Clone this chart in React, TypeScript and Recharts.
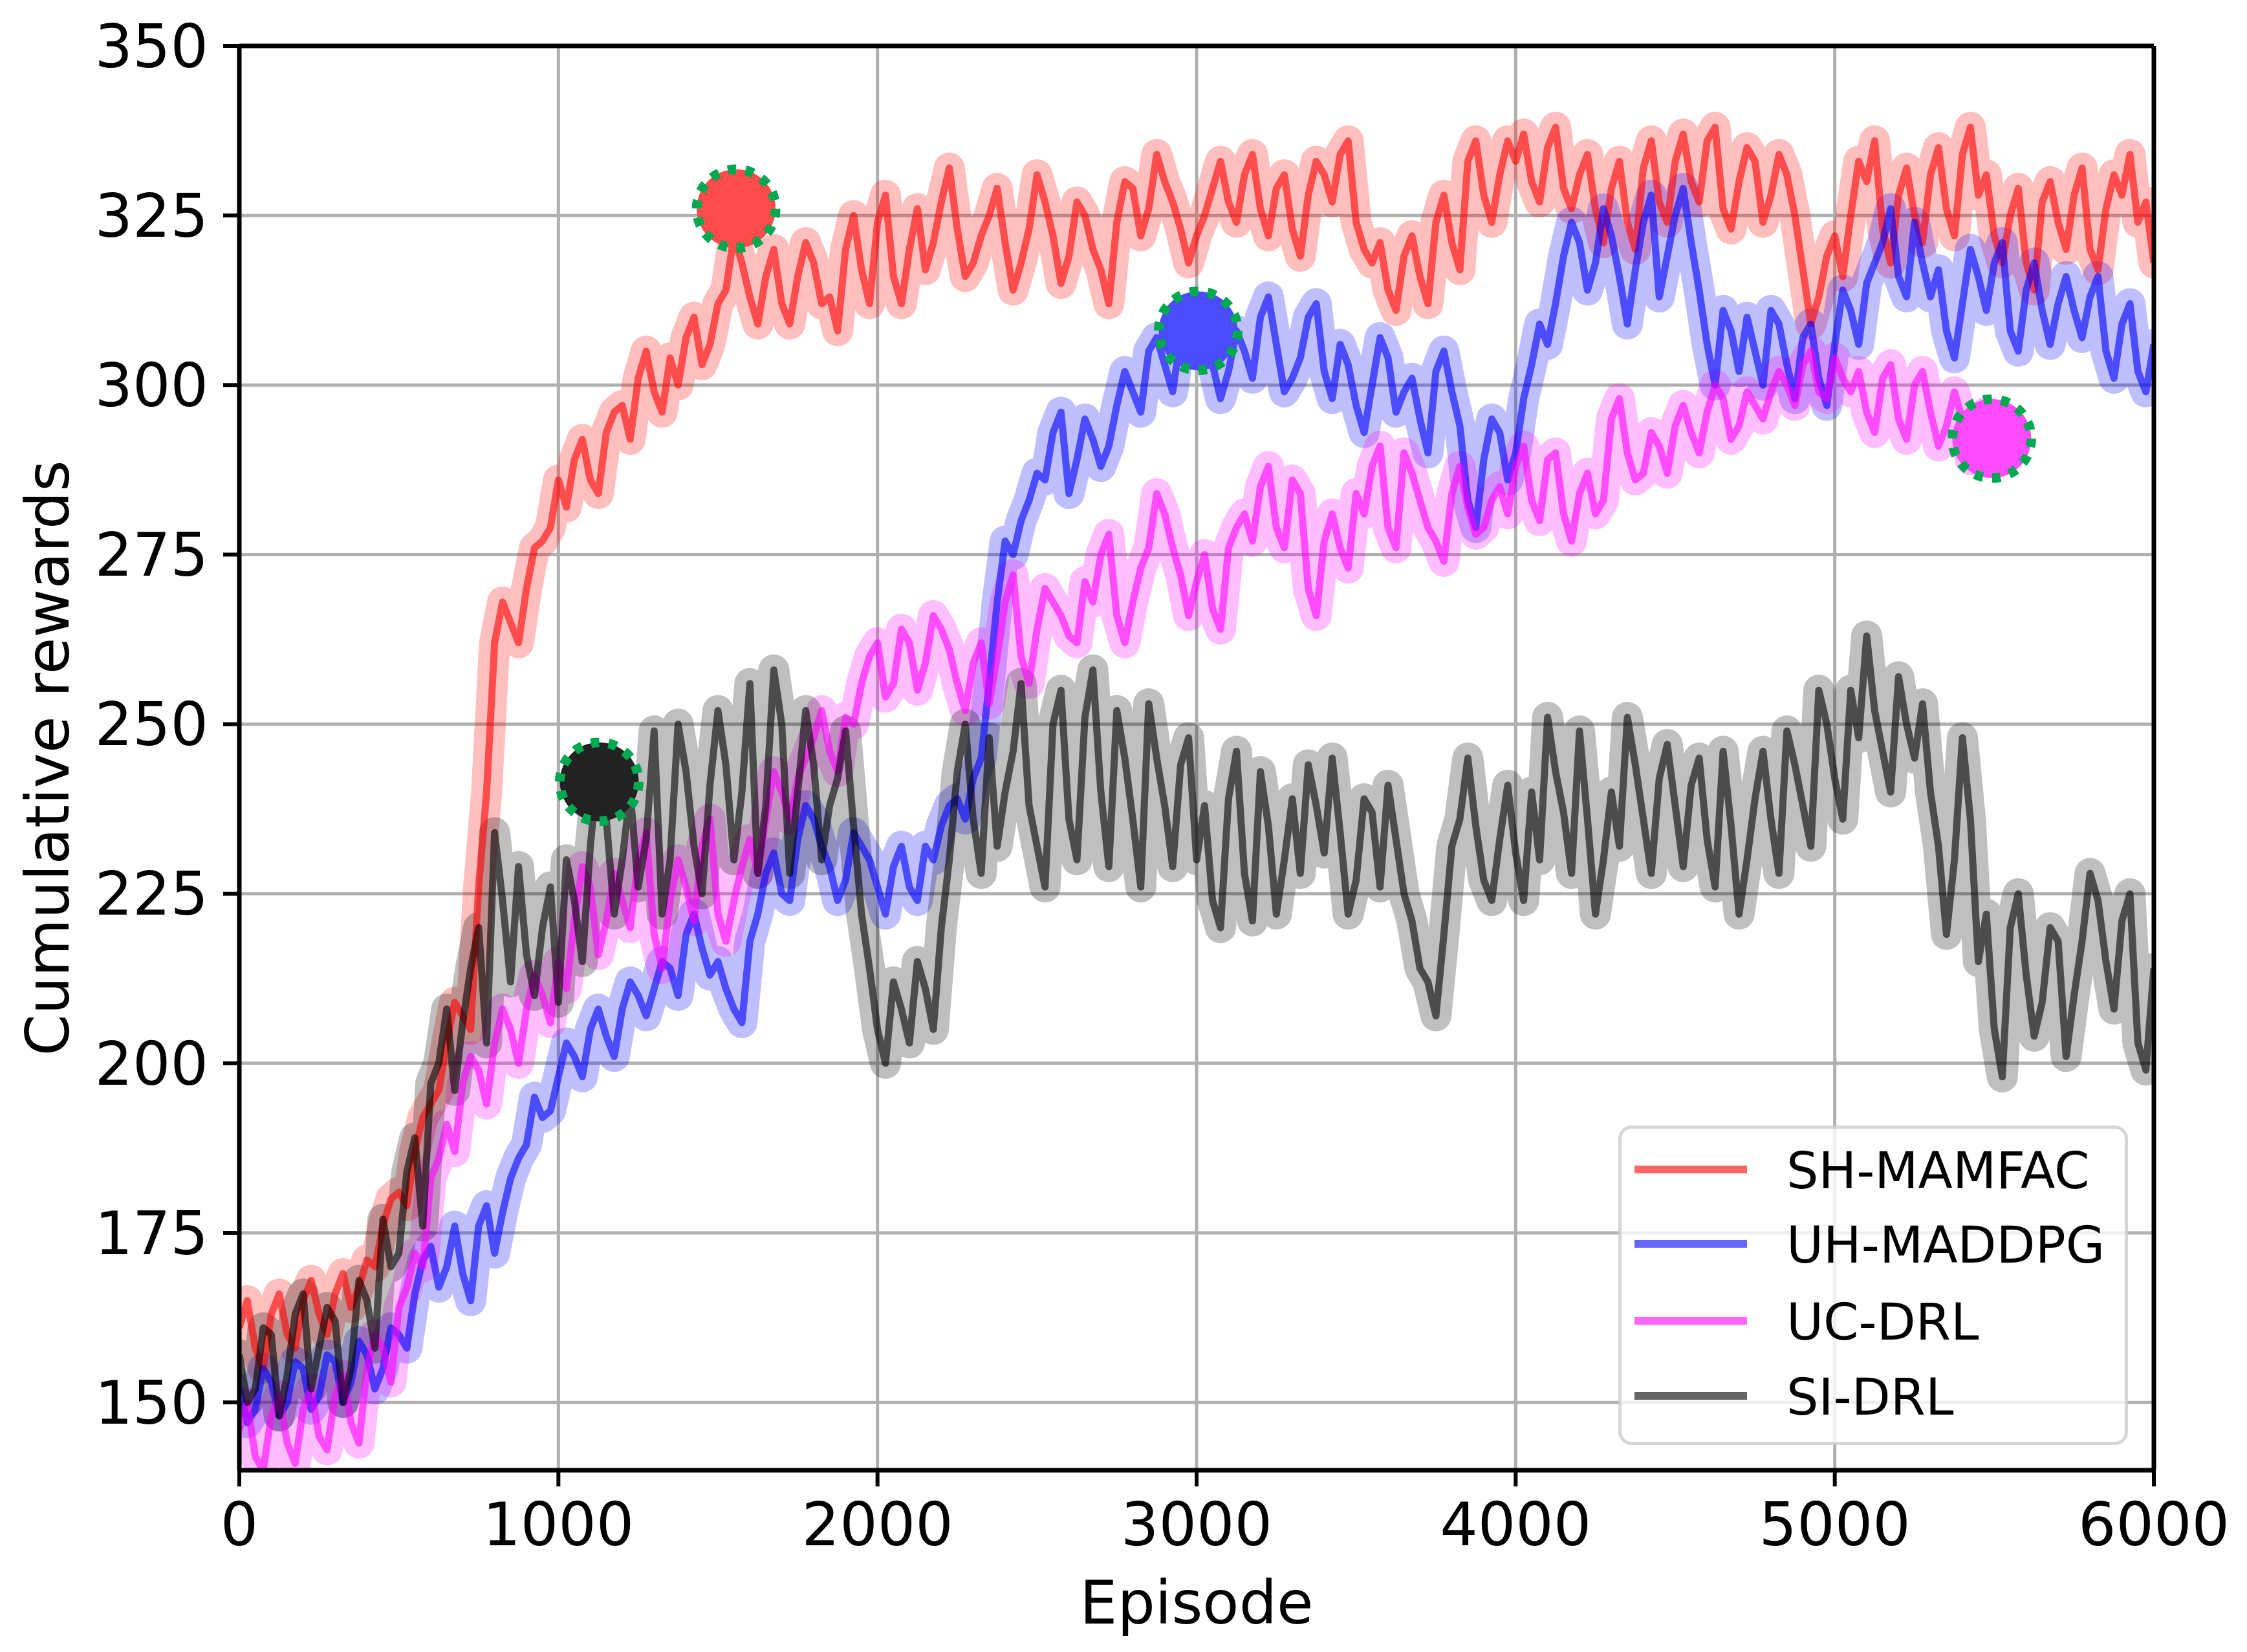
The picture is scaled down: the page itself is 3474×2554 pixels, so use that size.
import React from 'react';
import { ComposedChart, Line, XAxis, YAxis, CartesianGrid, ReferenceDot, ReferenceLine } from 'recharts';

const EPISODES = [
  0, 25, 50, 75, 100, 125, 150, 175, 200, 225, 250, 275, 300, 325, 350, 375, 400, 425, 450, 475,
  500, 525, 550, 575, 600, 625, 650, 675, 700, 725, 750, 775, 800, 825, 850, 875, 900, 925, 950, 975,
  1000, 1025, 1050, 1075, 1100, 1125, 1150, 1175, 1200, 1225, 1250, 1275, 1300, 1325, 1350, 1375, 1400, 1425, 1450, 1475,
  1500, 1525, 1550, 1575, 1600, 1625, 1650, 1675, 1700, 1725, 1750, 1775, 1800, 1825, 1850, 1875, 1900, 1925, 1950, 1975,
  2000, 2025, 2050, 2075, 2100, 2125, 2150, 2175, 2200, 2225, 2250, 2275, 2300, 2325, 2350, 2375, 2400, 2425, 2450, 2475,
  2500, 2525, 2550, 2575, 2600, 2625, 2650, 2675, 2700, 2725, 2750, 2775, 2800, 2825, 2850, 2875, 2900, 2925, 2950, 2975,
  3000, 3025, 3050, 3075, 3100, 3125, 3150, 3175, 3200, 3225, 3250, 3275, 3300, 3325, 3350, 3375, 3400, 3425, 3450, 3475,
  3500, 3525, 3550, 3575, 3600, 3625, 3650, 3675, 3700, 3725, 3750, 3775, 3800, 3825, 3850, 3875, 3900, 3925, 3950, 3975,
  4000, 4025, 4050, 4075, 4100, 4125, 4150, 4175, 4200, 4225, 4250, 4275, 4300, 4325, 4350, 4375, 4400, 4425, 4450, 4475,
  4500, 4525, 4550, 4575, 4600, 4625, 4650, 4675, 4700, 4725, 4750, 4775, 4800, 4825, 4850, 4875, 4900, 4925, 4950, 4975,
  5000, 5025, 5050, 5075, 5100, 5125, 5150, 5175, 5200, 5225, 5250, 5275, 5300, 5325, 5350, 5375, 5400, 5425, 5450, 5475,
  5500, 5525, 5550, 5575, 5600, 5625, 5650, 5675, 5700, 5725, 5750, 5775, 5800, 5825, 5850, 5875, 5900, 5925, 5950, 5975,
  6000,
];

const SH_MAMFAC = [
  161, 165, 158, 155, 163, 166, 160, 158, 165, 168, 163, 160, 166, 169, 164, 167, 171, 170, 176, 180,
  181, 179, 187, 192, 194, 196, 203, 209, 207, 205, 226, 240, 262, 268, 265, 262, 270, 276, 277, 279,
  286, 282, 289, 292, 286, 284, 293, 296, 297, 292, 301, 305, 299, 296, 304, 300, 307, 310, 303, 306,
  312, 314, 322, 318, 313, 309, 316, 320, 312, 309, 316, 321, 318, 312, 313, 308, 320, 325, 317, 312,
  324, 328, 316, 312, 320, 326, 317, 321, 327, 332, 323, 316, 318, 322, 325, 329, 321, 314, 318, 323,
  331, 327, 322, 315, 319, 327, 325, 320, 317, 312, 324, 330, 329, 322, 326, 334, 330, 327, 323, 318,
  322, 325, 329, 333, 327, 324, 331, 334, 326, 322, 329, 331, 323, 319, 328, 333, 331, 327, 334, 336,
  324, 320, 318, 321, 314, 311, 319, 322, 316, 312, 324, 328, 321, 317, 333, 336, 328, 324, 331, 336,
  333, 337, 330, 327, 335, 338, 329, 326, 331, 334, 326, 321, 329, 333, 324, 320, 332, 336, 327, 324,
  333, 337, 330, 327, 336, 338, 326, 323, 330, 335, 333, 324, 328, 334, 331, 325, 317, 309, 313, 319,
  322, 316, 325, 333, 330, 336, 323, 318, 328, 332, 325, 321, 331, 335, 326, 322, 334, 338, 328, 331,
  322, 318, 325, 329, 318, 314, 327, 330, 324, 320, 328, 332, 320, 317, 326, 331, 328, 334, 324, 327,
  318,
];

const UH_MADDPG = [
  152, 147, 149, 155, 153, 148, 150, 156, 155, 149, 151, 157, 156, 150, 153, 159, 157, 152, 155, 161,
  160, 158, 166, 171, 173, 167, 170, 176, 169, 165, 176, 179, 172, 178, 183, 186, 188, 195, 192, 193,
  198, 203, 201, 198, 205, 208, 204, 201, 208, 212, 210, 207, 211, 215, 214, 210, 219, 222, 217, 213,
  215, 211, 208, 206, 218, 222, 228, 231, 225, 224, 233, 238, 236, 232, 229, 224, 227, 234, 232, 230,
  226, 222, 229, 232, 226, 224, 232, 230, 235, 238, 239, 236, 242, 245, 256, 268, 277, 275, 280, 283,
  287, 286, 293, 296, 284, 289, 295, 292, 288, 291, 297, 302, 299, 296, 305, 307, 303, 299, 307, 311,
  308, 311, 303, 298, 302, 308, 305, 301, 310, 313, 306, 299, 301, 304, 310, 312, 302, 298, 306, 303,
  297, 293, 300, 307, 304, 296, 299, 301, 295, 290, 302, 305, 299, 294, 283, 279, 289, 295, 293, 286,
  290, 298, 303, 309, 306, 312, 319, 324, 321, 314, 318, 326, 322, 316, 309, 317, 324, 328, 313, 319,
  325, 329, 321, 314, 306, 300, 311, 308, 302, 310, 305, 300, 311, 309, 303, 298, 307, 309, 301, 297,
  306, 314, 311, 306, 315, 318, 321, 326, 316, 313, 324, 318, 313, 317, 308, 304, 312, 320, 316, 311,
  318, 321, 308, 305, 314, 318, 311, 306, 312, 316, 311, 307, 313, 316, 305, 301, 309, 312, 302, 299,
  306,
];

const UC_DRL = [
  146, 150, 142, 140, 148, 151, 144, 141, 149, 152, 145, 143, 151, 154, 147, 144, 155, 160, 158, 153,
  164, 167, 172, 170, 183, 186, 191, 187, 197, 201, 199, 194, 203, 208, 205, 200, 208, 213, 210, 206,
  215, 211, 221, 229, 226, 216, 221, 228, 224, 220, 230, 234, 219, 214, 224, 230, 226, 221, 232, 236,
  222, 218, 224, 229, 233, 228, 236, 243, 240, 236, 242, 245, 248, 252, 246, 243, 251, 250, 256, 260,
  262, 254, 256, 264, 262, 255, 259, 266, 264, 261, 256, 252, 259, 262, 253, 260, 268, 272, 260, 256,
  264, 270, 268, 266, 263, 262, 271, 268, 275, 278, 266, 262, 268, 273, 276, 284, 281, 276, 272, 266,
  271, 275, 267, 264, 276, 279, 281, 277, 285, 288, 279, 276, 286, 284, 270, 266, 277, 281, 276, 273,
  284, 281, 288, 291, 279, 276, 290, 287, 283, 279, 277, 274, 284, 288, 282, 278, 279, 283, 285, 281,
  288, 291, 283, 280, 289, 290, 281, 277, 284, 287, 281, 283, 295, 298, 290, 286, 287, 293, 291, 287,
  294, 297, 293, 290, 296, 300, 298, 292, 294, 299, 297, 295, 299, 302, 300, 297, 303, 305, 299, 298,
  304, 301, 299, 302, 296, 293, 301, 303, 295, 292, 300, 302, 296, 291, 294, 299, 295, 289, 292, 296,
  292, null, null, null, null, null, null, null, null, null, null, null, null, null, null, null, null, null, null, null,
  null,
];

const SI_DRL = [
  157, 150, 152, 161, 160, 148, 154, 163, 166, 152, 158, 164, 162, 150, 155, 168, 165, 158, 177, 170,
  172, 184, 189, 176, 197, 200, 208, 196, 206, 214, 220, 203, 234, 224, 212, 229, 216, 210, 220, 226,
  209, 230, 224, 215, 232, 244, 236, 222, 230, 240, 226, 233, 249, 222, 230, 250, 243, 232, 225, 241,
  252, 244, 230, 240, 256, 228, 238, 258, 250, 228, 240, 252, 244, 230, 238, 242, 249, 235, 222, 214,
  205, 200, 212, 208, 203, 215, 211, 205, 220, 230, 243, 250, 236, 228, 248, 232, 240, 246, 256, 238,
  232, 226, 250, 255, 236, 230, 251, 258, 240, 229, 252, 245, 236, 226, 253, 245, 238, 229, 244, 248,
  230, 238, 224, 220, 239, 246, 228, 221, 243, 235, 222, 230, 239, 228, 244, 238, 231, 245, 234, 222,
  227, 239, 237, 226, 241, 233, 225, 221, 214, 212, 207, 219, 232, 236, 245, 235, 227, 224, 233, 241,
  231, 224, 240, 230, 251, 243, 237, 228, 249, 236, 222, 230, 240, 232, 251, 244, 236, 228, 242, 247,
  238, 229, 241, 245, 233, 226, 246, 235, 222, 230, 239, 246, 236, 228, 249, 244, 238, 232, 255, 250,
  242, 236, 255, 248, 263, 252, 246, 240, 257, 250, 245, 253, 240, 232, 219, 230, 248, 236, 215, 222,
  205, 198, 220, 225, 213, 204, 209, 220, 218, 201, 210, 218, 228, 224, 215, 208, 221, 225, 203, 199,
  214,
];

const SERIES_NAMES = ['SH-MAMFAC', 'UH-MADDPG', 'UC-DRL', 'SI-DRL'];
const SERIES_KEYS = ['sh', 'uh', 'uc', 'si'];
const SERIES_COLORS = ['#ff0000', '#0000ff', '#ff00ff', '#000000'];

const MARKER_EPISODES = [1557, 3005, 1128, 5492];
const MARKER_VALUES = [326, 308, 241.5, 292.1];
const MARKER_FILLS = ['#ff4b4b', '#4b4bff', '#222222', '#ff4bff'];

const X_TICKS = [0, 1000, 2000, 3000, 4000, 5000, 6000];
const Y_TICKS = [150, 175, 200, 225, 250, 275, 300, 325, 350];

const data = EPISODES.map((e, i) => ({
  episode: e,
  sh: SH_MAMFAC[i],
  uh: UH_MADDPG[i],
  uc: UC_DRL[i],
  si: SI_DRL[i],
}));

const FONT = 'DejaVu Sans';
const W = 3474;
const H = 2554;

function Legend() {
  const rows = [68, 183, 302, 418];
  return (
    <svg
      width={788}
      height={494}
      style={{ position: 'absolute', left: 2502, top: 1740 }}
    >
      <rect x={2.5} y={2.5} width={783} height={489} rx={18} ry={18}
        fill="#ffffff" fillOpacity={0.8} stroke="#cccccc" strokeOpacity={0.8} strokeWidth={5} />
      {SERIES_NAMES.map((name, i) => (
        <g key={name}>
          <line x1={25} x2={199} y1={rows[i]} y2={rows[i]} stroke={SERIES_COLORS[i]}
            strokeOpacity={0.6} strokeWidth={12} />
          <text x={260} y={rows[i] + 29} fontFamily={FONT} fontSize={78} fill="#000">{name}</text>
        </g>
      ))}
    </svg>
  );
}

export default function App() {
  const tickStyle = { fill: '#000', fontSize: 92, fontFamily: FONT };
  return (
    <div style={{ position: 'absolute', left: 0, top: 0, width: W, height: H, background: '#fff', overflow: 'hidden' }}>
      <ComposedChart width={W} height={H} data={data} margin={{ top: 71, right: 144, bottom: 0, left: 0 }}>
        <CartesianGrid stroke="#b0b0b0" strokeWidth={5} />
        <XAxis
          dataKey="episode"
          type="number"
          domain={[0, 6000]}
          ticks={X_TICKS}
          interval={0}
          allowDataOverflow
          height={281}
          tickSize={25}
          tickMargin={26}
          tick={tickStyle}
          axisLine={{ stroke: '#000', strokeWidth: 7 }}
          tickLine={{ stroke: '#000', strokeWidth: 6 }}
          label={{
            content: (p: any) => {
              const vb = p.viewBox || { x: 370, y: 2273, width: 2960, height: 281 };
              return (
                <text x={vb.x + vb.width / 2} y={vb.y + vb.height - 44} textAnchor="middle"
                  fontFamily={FONT} fontSize={92} fill="#000">Episode</text>
              );
            },
          }}
        />
        <YAxis
          type="number"
          domain={[140, 350]}
          ticks={Y_TICKS}
          interval={0}
          allowDataOverflow
          width={370}
          tickSize={25}
          tickMargin={23}
          tick={tickStyle}
          axisLine={{ stroke: '#000', strokeWidth: 7 }}
          tickLine={{ stroke: '#000', strokeWidth: 6 }}
          label={{
            content: (p: any) => {
              const vb = p.viewBox || { x: 0, y: 71, width: 370, height: 2202 };
              const cx = 106;
              const cy = vb.y + vb.height / 2;
              return (
                <text x={cx} y={cy} transform={`rotate(-90, ${cx}, ${cy})`} textAnchor="middle"
                  fontFamily={FONT} fontSize={92} fill="#000">Cumulative rewards</text>
              );
            },
          }}
        />
        {SERIES_KEYS.map((k, i) => (
          <Line key={k + '-band'} dataKey={k} type="linear" stroke={SERIES_COLORS[i]} strokeOpacity={0.25}
            strokeWidth={48} strokeLinejoin="round" strokeLinecap="round" dot={false} activeDot={false}
            isAnimationActive={false} connectNulls={false} legendType="none" />
        ))}
        {SERIES_KEYS.map((k, i) => (
          <Line key={k + '-line'} dataKey={k} name={SERIES_NAMES[i]} type="linear" stroke={SERIES_COLORS[i]}
            strokeOpacity={0.6} strokeWidth={11} strokeLinejoin="round" dot={false} activeDot={false}
            isAnimationActive={false} connectNulls={false} />
        ))}
        <ReferenceLine x={6000} stroke="#000" strokeWidth={7} />
        <ReferenceLine y={350} stroke="#000" strokeWidth={7} />
        {MARKER_EPISODES.map((e, i) => (
          <ReferenceDot key={'m' + i} x={e} y={MARKER_VALUES[i]} r={61} fill={MARKER_FILLS[i]}
            stroke="#00a84f" strokeWidth={15} strokeDasharray="13 14.4" />
        ))}
      </ComposedChart>
      <Legend />
    </div>
  );
}
